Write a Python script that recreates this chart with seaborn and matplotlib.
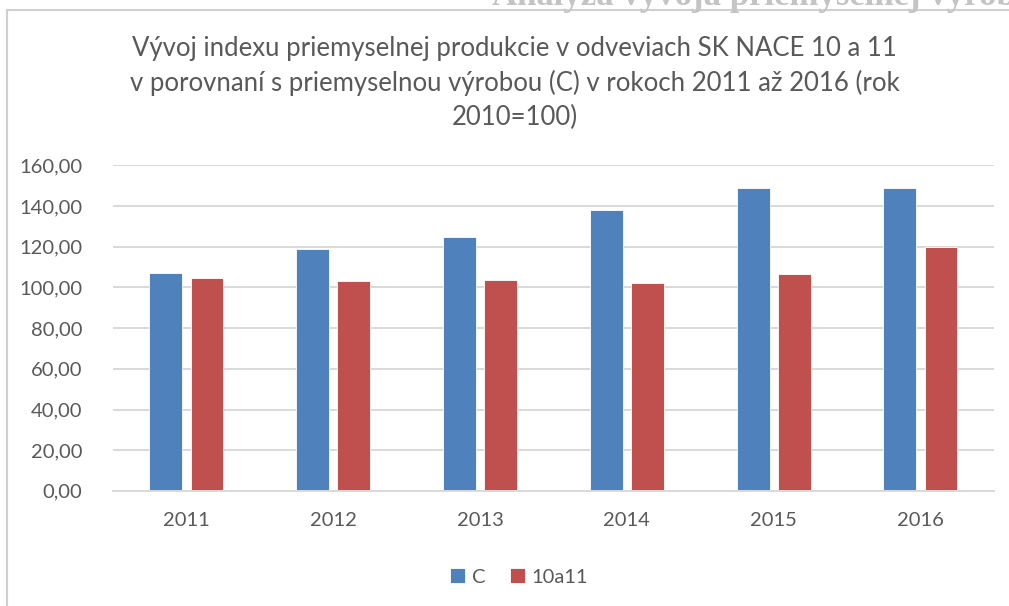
import matplotlib.pyplot as plt
import matplotlib.ticker as mticker
from matplotlib.patches import Rectangle
import seaborn as sns
import pandas as pd

# values (index, 2010 = 100)
years = ['2011', '2012', '2013', '2014', '2015', '2016']
index_c = [107.0, 119.1, 125.0, 138.2, 149.0, 149.0]
index_10a11 = [104.7, 103.2, 103.7, 102.1, 106.4, 119.8]
series_names = ['C', '10a11']
title = ('Vývoj indexu priemyselnej produkcie v odveviach SK NACE 10 a 11\n'
         'v porovnaní s priemyselnou výrobou (C) v rokoch 2011 až 2016 (rok\n'
         '2010=100)')
page_heading = 'Analýza vývoja priemyselnej výroby'

df = pd.DataFrame({
    'rok': years * 2,
    'index': index_c + index_10a11,
    'seria': [series_names[0]] * len(years) + [series_names[1]] * len(years),
})

sns.set_theme(style='white')
plt.rcParams['font.family'] = ['Lato', 'DejaVu Sans']
text_col = '#595959'
grid_col = '#D9D9D9'
palette = {'C': '#4F81BD', '10a11': '#C0504D'}

fig = plt.figure(figsize=(10.09, 6.06), dpi=100)
ax = fig.add_axes([0.112, 0.19, 0.873, 0.537])

sns.barplot(data=df, x='rok', y='index', hue='seria', palette=palette,
            width=0.56, gap=0.2, saturation=1, ax=ax,
            edgecolor='white', linewidth=0.6)

ax.set_ylim(0, 160)
ax.yaxis.set_major_locator(mticker.MultipleLocator(20))
ax.yaxis.set_major_formatter(mticker.FuncFormatter(lambda v, p: f'{v:.2f}'.replace('.', ',')))
ax.grid(axis='y', color=grid_col, linewidth=1.4)
ax.set_axisbelow(True)
for side in ['top', 'right', 'left']:
    ax.spines[side].set_visible(False)
ax.spines['bottom'].set_color(grid_col)
ax.spines['bottom'].set_linewidth(1.4)
ax.set_xlabel('')
ax.set_ylabel('')
ax.tick_params(axis='both', length=0, labelsize=14.5, colors=text_col)
ax.tick_params(axis='x', pad=15)
ax.tick_params(axis='y', pad=22)

handles, labels = ax.get_legend_handles_labels()
ax.legend(handles, labels, loc='center', bbox_to_anchor=(0.461, -0.265),
          ncol=2, frameon=False, fontsize=14.5, labelcolor=text_col,
          handlelength=0.75, handleheight=0.75, handletextpad=0.35,
          columnspacing=1.2)

fig.text(0.51, 1 - 83 / 606, title, ha='center', va='center', fontsize=18.5,
         color=text_col, linespacing=1.42)

# chart frame and the clipped page heading above it
fig.patches.append(Rectangle((7 / 1009, -0.01), 1.1, 1 - 10 / 606 + 0.01,
                             transform=fig.transFigure, fill=False,
                             edgecolor='#D0D0D0', linewidth=1.5))
fig.text(492 / 1009, 1 - 5 / 606, page_heading, ha='left', va='baseline',
         fontsize=25, fontweight='bold', color='#C4C4C4',
         family=['Liberation Serif', 'DejaVu Serif'])

fig.savefig('out.png', dpi=100)
